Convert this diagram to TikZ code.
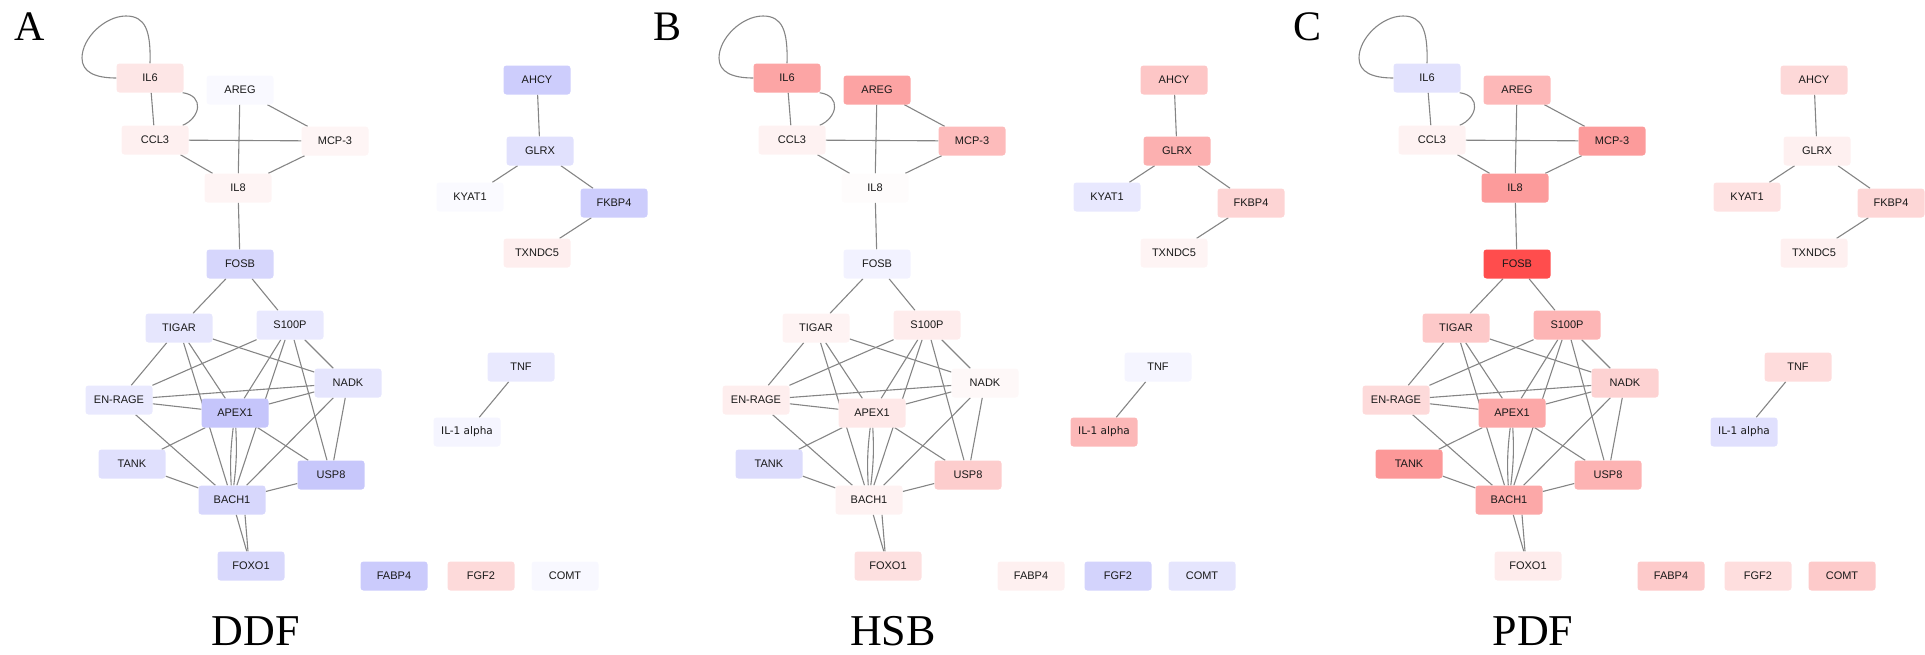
\documentclass[tikz,border=0pt]{standalone}
\usepackage{fontspec}
\setmainfont{Liberation Serif}
\setsansfont{Liberation Sans}
\newfontfamily\dejavu{DejaVu Sans}
\pgfdeclarelayer{bg}
\pgfsetlayers{bg,main}

% node fills: A = DDF, B = HSB, C = PDF
\definecolor{IL6A}{HTML}{FDE6E6}\definecolor{IL6B}{HTML}{FCA5A5}\definecolor{IL6C}{HTML}{E2E2FD}
\definecolor{AREGA}{HTML}{F9F9FF}\definecolor{AREGB}{HTML}{FCA3A3}\definecolor{AREGC}{HTML}{FDB8B8}
\definecolor{CCL3A}{HTML}{FEF0F0}\definecolor{CCL3B}{HTML}{FEF2F2}\definecolor{CCL3C}{HTML}{FEF2F2}
\definecolor{MCP3A}{HTML}{FEF5F5}\definecolor{MCP3B}{HTML}{FDBBBB}\definecolor{MCP3C}{HTML}{FC9B9B}
\definecolor{IL8A}{HTML}{FEF4F4}\definecolor{IL8B}{HTML}{FEFCFC}\definecolor{IL8C}{HTML}{FC9B9B}
\definecolor{FOSBA}{HTML}{D6D6FC}\definecolor{FOSBB}{HTML}{F2F2FF}\definecolor{FOSBC}{HTML}{FF4D4D}
\definecolor{AHCYA}{HTML}{CDCDFC}\definecolor{AHCYB}{HTML}{FDC6C6}\definecolor{AHCYC}{HTML}{FDD8D8}
\definecolor{GLRXA}{HTML}{E1E1FD}\definecolor{GLRXB}{HTML}{FCB0B0}\definecolor{GLRXC}{HTML}{FEF0F0}
\definecolor{KYATA}{HTML}{FAFAFF}\definecolor{KYATB}{HTML}{E8E8FE}\definecolor{KYATC}{HTML}{FEE2E2}
\definecolor{FKBPA}{HTML}{CDCDFC}\definecolor{FKBPB}{HTML}{FDD4D4}\definecolor{FKBPC}{HTML}{FDD6D6}
\definecolor{TXNA}{HTML}{FEEEEE}\definecolor{TXNB}{HTML}{FEF4F4}\definecolor{TXNC}{HTML}{FEF0F0}
\definecolor{TIGARA}{HTML}{E6E6FD}\definecolor{TIGARB}{HTML}{FEF3F3}\definecolor{TIGARC}{HTML}{FDC9C9}
\definecolor{SPA}{HTML}{E9E9FE}\definecolor{SPB}{HTML}{FEECEC}\definecolor{SPC}{HTML}{FDB5B5}
\definecolor{ENRAGEA}{HTML}{E9E9FE}\definecolor{ENRAGEB}{HTML}{FEEEEE}\definecolor{ENRAGEC}{HTML}{FDDADA}
\definecolor{NADKA}{HTML}{E5E5FD}\definecolor{NADKB}{HTML}{FEF8F8}\definecolor{NADKC}{HTML}{FDD2D2}
\definecolor{APEXA}{HTML}{C5C5FB}\definecolor{APEXB}{HTML}{FEE8E8}\definecolor{APEXC}{HTML}{FCA8A8}
\definecolor{TANKA}{HTML}{E0E0FD}\definecolor{TANKB}{HTML}{DCDCFC}\definecolor{TANKC}{HTML}{FC9898}
\definecolor{USPA}{HTML}{C7C7FB}\definecolor{USPB}{HTML}{FDCDCD}\definecolor{USPC}{HTML}{FDB3B3}
\definecolor{BACHA}{HTML}{D7D7FC}\definecolor{BACHB}{HTML}{FEF2F2}\definecolor{BACHC}{HTML}{FCA8A8}
\definecolor{FOXOA}{HTML}{D8D8FC}\definecolor{FOXOB}{HTML}{FDE0E0}\definecolor{FOXOC}{HTML}{FEECEC}
\definecolor{TNFA}{HTML}{E9E9FE}\definecolor{TNFB}{HTML}{F5F5FF}\definecolor{TNFC}{HTML}{FEDCDC}
\definecolor{ILaA}{HTML}{F5F5FF}\definecolor{ILaB}{HTML}{FCB8B8}\definecolor{ILaC}{HTML}{E0E0FD}
\definecolor{FABPA}{HTML}{CBCBFC}\definecolor{FABPB}{HTML}{FEF0F0}\definecolor{FABPC}{HTML}{FDCACA}
\definecolor{FGFA}{HTML}{FDDADA}\definecolor{FGFB}{HTML}{D3D3FC}\definecolor{FGFC}{HTML}{FEDEDE}
\definecolor{COMTA}{HTML}{F8F8FF}\definecolor{COMTB}{HTML}{E5E5FD}\definecolor{COMTC}{HTML}{FDCACA}

\tikzset{
  gene/.style={rectangle, rounded corners=3, minimum width=67, minimum height=29, inner sep=0,
    text=black!90, font=\sffamily\fontsize{11}{11}\selectfont},
  link/.style={draw=black!48, line width=1.1},
}

\begin{document}
\begin{tikzpicture}[x=1pt, y=-1pt]
  \useasboundingbox (0,0) rectangle (1925,654);

  \foreach \p/\dx/\ttl in {A/0/DDF, B/637/HSB, C/1277/PDF} {
    \begin{scope}[xshift=\dx]
      % panel letter and method name
      \node[font=\fontsize{42}{42}\selectfont, anchor=base, inner sep=0] (\p-tag) at (30,40) {\p};
      \node[font=\fontsize{44}{44}\selectfont, anchor=base, inner sep=0] (\p-name) at (256,645) {\ttl};

      % genes
      \foreach \n/\x/\y/\txt in {IL6/150/78/IL6, AREG/240/90/AREG, CCL3/155/140/CCL3, MCP3/335/141/MCP-3,
          IL8/238/188/IL8, FOSB/240/264/FOSB, TIGAR/179/328/TIGAR, SP/290/325/S100P,
          ENRAGE/119/400/EN-RAGE, APEX/235/413/APEX1, NADK/348/383/NADK, TANK/132/464/TANK,
          USP/331/475/USP8, BACH/232/500/BACH1, FOXO/251/566/FOXO1,
          AHCY/537/80/AHCY, GLRX/540/151/GLRX, KYAT/470/197/KYAT1, FKBP/614/203/FKBP4, TXN/537/253/TXNDC5,
          TNF/521/367/TNF, ILa/467/432/{\dejavu\fontsize{10.5}{10.5}\selectfont IL-1 alpha},
          FABP/394/576/FABP4, FGF/481/576/FGF2, COMT/565/576/COMT} {
        \node[gene, fill=\n\p] (\p-\n) at (\x,\y) {\txt};
      }

      % interactions
      \begin{pgfonlayer}{bg}
        \foreach \src/\dst in {IL6/CCL3, AREG/IL8, AREG/MCP3, CCL3/MCP3, CCL3/IL8, MCP3/IL8, IL8/FOSB,
            FOSB/TIGAR, FOSB/SP, TIGAR/ENRAGE, TIGAR/APEX, TIGAR/BACH, TIGAR/NADK,
            SP/ENRAGE, SP/NADK, SP/APEX, SP/BACH, SP/USP, ENRAGE/NADK, ENRAGE/APEX, ENRAGE/BACH,
            APEX/NADK, NADK/BACH, NADK/USP, APEX/TANK, APEX/USP, TANK/BACH, USP/BACH, BACH/FOXO,
            AHCY/GLRX, GLRX/KYAT, GLRX/FKBP, FKBP/TXN, TNF/ILa} {
          \draw[link] (\p-\src) -- (\p-\dst);
        }
        \draw[link] (\p-IL6.north) .. controls (151,30) and (145,16) .. (126,16)
          .. controls (105,16) and (82,38) .. (82,58) .. controls (82,72) and (95,78) .. (\p-IL6.west);
        \draw[link] ([xshift=-1]\p-IL6.south east) .. controls (205,96) and (200,118) .. ([xshift=-6]\p-CCL3.north east);
        \draw[link] (\p-APEX) to[bend left=5] (\p-BACH);
        \draw[link] (\p-APEX) to[bend right=5] (\p-BACH);
        \draw[link] ([xshift=13]\p-BACH.south) -- ([xshift=-3]\p-FOXO.north);
      \end{pgfonlayer}
    \end{scope}
  }
\end{tikzpicture}
\end{document}
